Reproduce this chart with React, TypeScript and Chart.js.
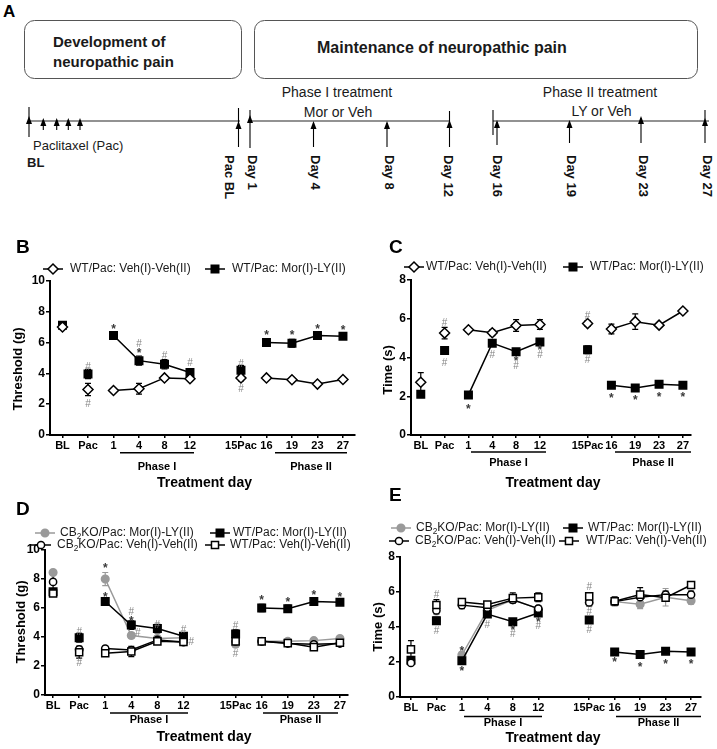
import React, { useEffect, useRef } from "react";
import { Chart, registerables } from "chart.js";

Chart.register(...registerables);

const FONT = "'Liberation Sans', Arial, Helvetica, sans-serif";

// ---------- categories ----------
const dayLabels = ["BL", "Pac", "1", "4", "8", "12", "15Pac", "16", "19", "23", "27"];
const daySlots = [0, 1, 2, 3, 4, 5, 7, 8, 9, 10, 11];
const phaseIDays = ["1", "4", "8", "12"];
const phaseIIDays = ["16", "19", "23", "27"];

// ---------- threshold (g) ----------
const wtVehThreshold = [7.0, 2.95, 2.88, 3.0, 3.7, 3.65, 3.7, 3.7, 3.58, 3.3, 3.6];
const wtVehThresholdSem = [0.15, 0.4, 0.1, 0.35, 0.15, 0.1, 0.2, 0.1, 0.1, 0.1, 0.1];
const wtMorThreshold = [7.12, 3.95, 6.45, 4.82, 4.58, 4.05, 4.2, 6.0, 5.95, 6.45, 6.4];
const wtMorThresholdSem = [0.15, 0.3, 0.15, 0.3, 0.3, 0.2, 0.3, 0.25, 0.25, 0.15, 0.15];
const koMorThreshold = [8.45, 3.1, 8.0, 4.1, 3.9, 3.95, 3.5, 3.7, 3.7, 3.75, 3.9];
const koMorThresholdSem = [0.15, 0.2, 0.45, 0.2, 0.1, 0.1, 0.2, 0.1, 0.1, 0.1, 0.15];
const koVehThreshold = [7.8, 3.15, 3.2, 3.1, 3.8, 3.65, 3.7, 3.7, 3.55, 3.5, 3.55];
const koVehThresholdSem = [0.5, 0.2, 0.15, 0.1, 0.15, 0.1, 0.2, 0.1, 0.1, 0.15, 0.1];

// ---------- time (s) ----------
const wtVehTime = [2.72, 5.26, 5.43, 5.28, 5.65, 5.7, 5.75, 5.47, 5.85, 5.67, 6.4];
const wtVehTimeSem = [0.5, 0.3, 0.1, 0.15, 0.3, 0.25, 0.15, 0.25, 0.4, 0.1, 0.1];
const wtMorTime = [2.1, 4.36, 2.07, 4.74, 4.3, 4.8, 4.4, 2.57, 2.43, 2.62, 2.57];
const wtMorTimeSem = [0.1, 0.2, 0.1, 0.15, 0.1, 0.1, 0.2, 0.1, 0.15, 0.1, 0.1];
const koMorTime = [2.1, 4.4, 2.4, 4.95, 5.55, 5.05, 5.4, 5.45, 5.3, 5.7, 5.5];
const koMorTimeSem = [0.2, 0.2, 0.2, 0.2, 0.15, 0.15, 0.2, 0.15, 0.25, 0.5, 0.2];
const koVehTime = [1.95, 4.95, 5.25, 5.1, 5.55, 5.05, 5.4, 5.45, 5.7, 5.85, 5.85];
const koVehTimeSem = [0.15, 0.2, 0.2, 0.15, 0.15, 0.15, 0.2, 0.2, 0.25, 0.2, 0.2];

// ---------- significance marks: [day, y value, symbol, slot shift] ----------
type Sig = [string, number, string, number?];
const sigB: Sig[] = [
  ["Pac", 4.5, "#"], ["Pac", 2.05, "#"], ["1", 7.0, "*"], ["4", 5.95, "#"], ["4", 5.45, "*"],
  ["8", 5.2, "#"], ["12", 4.7, "#"], ["15Pac", 4.65, "#"], ["15Pac", 3.07, "#"],
  ["16", 6.65, "*"], ["19", 6.65, "*"], ["23", 7.0, "*"], ["27", 6.97, "*"],
];
const sigC: Sig[] = [
  ["Pac", 5.84, "#"], ["Pac", 3.76, "#"], ["1", 1.45, "*"], ["4", 4.16, "#"], ["8", 3.93, "*"],
  ["8", 3.62, "#"], ["12", 4.5, "*"], ["12", 4.19, "#"], ["15Pac", 6.18, "#"], ["15Pac", 3.93, "#"],
  ["16", 2.03, "*"], ["19", 1.94, "*"], ["23", 2.11, "*"], ["27", 2.08, "*"],
];
const sigD: Sig[] = [
  ["Pac", 4.44, "#"], ["Pac", 2.25, "#"], ["1", 8.9, "*"], ["1", 6.94, "*"], ["4", 5.76, "#"],
  ["4", 5.25, "*"], ["4", 4.35, "#", 0.25], ["8", 4.9, "#"], ["12", 4.56, "#"], ["12", 3.75, "#", 0.3],
  ["15Pac", 4.8, "#"], ["15Pac", 2.87, "#"], ["16", 6.7, "*"], ["19", 6.57, "*"], ["23", 7.04, "*"], ["27", 6.94, "*"],
];
const sigE: Sig[] = [
  ["Pac", 5.88, "#"], ["Pac", 3.85, "#"], ["1", 2.79, "*"], ["1", 1.64, "*"], ["4", 4.18, "#"],
  ["8", 3.95, "*"], ["8", 3.66, "#"], ["12", 4.43, "*"], ["12", 4.14, "#"], ["15Pac", 6.32, "#"],
  ["15Pac", 4.91, "#"], ["15Pac", 3.89, "#"], ["16", 2.16, "*"], ["19", 1.87, "*"], ["23", 2.02, "*"], ["27", 2.02, "*"],
];

// ---------- legend names ----------
const nameWtVeh = "WT/Pac: Veh(I)-Veh(II)";
const nameWtMor = "WT/Pac: Mor(I)-LY(II)";
const nameKoMor = "CB₂KO/Pac: Mor(I)-LY(II)";
const nameKoVeh = "CB₂KO/Pac: Veh(I)-Veh(II)";

type Marker = "diamond" | "square" | "circle";
type Series = {
  name: string; values: number[]; sem: number[]; marker: Marker;
  fill: string; stroke: string; r: number; leg: [number, number, number];
};
type Phase = { text: string; x1: number; x2: number; lineY: number; textY: number };
type Panel = {
  letter: string; letterAt: [number, number];
  box: [number, number, number, number]; area: [number, number, number, number];
  xRange: [number, number]; yMax: number; yTitle: string; yTitleAt: [number, number];
  xTitleAt: [number, number]; phases: Phase[]; series: Series[]; sig: Sig[];
};

const BLACK = "#000000";
const GRAY = "#9a9a9a";
const WHITE = "#ffffff";

const panels: Panel[] = [
  {
    letter: "B", letterAt: [16, 253], box: [0, 230, 362, 265], area: [50, 280.7, 359, 435],
    xRange: [-0.49, 11.48], yMax: 10, yTitle: "Threshold (g)", yTitleAt: [18, 369], xTitleAt: [204.5, 483],
    phases: [
      { text: "Phase I", x1: 120, x2: 194, lineY: 452.7, textY: 467 },
      { text: "Phase II", x1: 275, x2: 347, lineY: 452.7, textY: 467 },
    ],
    series: [
      { name: nameWtVeh, values: wtVehThreshold, sem: wtVehThresholdSem, marker: "diamond", fill: WHITE, stroke: BLACK, r: 5, leg: [53, 269, 70] },
      { name: nameWtMor, values: wtMorThreshold, sem: wtMorThresholdSem, marker: "square", fill: BLACK, stroke: BLACK, r: 5.3, leg: [215, 269, 232] },
    ],
    sig: sigB,
  },
  {
    letter: "C", letterAt: [389, 253], box: [362, 230, 355, 265], area: [411, 280, 691, 435],
    xRange: [-0.41, 11.34], yMax: 8, yTitle: "Time (s)", yTitleAt: [388, 370], xTitleAt: [553, 483],
    phases: [
      { text: "Phase I", x1: 471, x2: 546, lineY: 452, textY: 463 },
      { text: "Phase II", x1: 615, x2: 691, lineY: 452, textY: 463 },
    ],
    series: [
      { name: nameWtVeh, values: wtVehTime, sem: wtVehTimeSem, marker: "diamond", fill: WHITE, stroke: BLACK, r: 5, leg: [414, 267, 426] },
      { name: nameWtMor, values: wtMorTime, sem: wtMorTimeSem, marker: "square", fill: BLACK, stroke: BLACK, r: 5.3, leg: [573, 267, 590] },
    ],
    sig: sigC,
  },
  {
    letter: "D", letterAt: [16, 515], box: [0, 495, 362, 254], area: [45, 550, 348, 695],
    xRange: [-0.31, 11.31], yMax: 10, yTitle: "Threshold (g)", yTitleAt: [21, 622], xTitleAt: [204, 737],
    phases: [
      { text: "Phase I", x1: 110, x2: 188, lineY: 713, textY: 720 },
      { text: "Phase II", x1: 263, x2: 338, lineY: 713, textY: 720 },
    ],
    series: [
      { name: nameWtVeh, values: wtVehThreshold, sem: wtVehThresholdSem, marker: "square", fill: WHITE, stroke: BLACK, r: 5, leg: [215, 545, 230] },
      { name: nameKoVeh, values: koVehThreshold, sem: koVehThresholdSem, marker: "circle", fill: WHITE, stroke: BLACK, r: 3.6, leg: [41, 545, 57] },
      { name: nameWtMor, values: wtMorThreshold, sem: wtMorThresholdSem, marker: "square", fill: BLACK, stroke: BLACK, r: 5.3, leg: [220, 533, 233] },
      { name: nameKoMor, values: koMorThreshold, sem: koMorThresholdSem, marker: "circle", fill: GRAY, stroke: GRAY, r: 3.8, leg: [45, 533, 60] },
    ],
    sig: sigD,
  },
  {
    letter: "E", letterAt: [389, 501], box: [362, 480, 355, 269], area: [400, 557, 701, 697],
    xRange: [-0.43, 11.39], yMax: 8, yTitle: "Time (s)", yTitleAt: [378, 627], xTitleAt: [553, 738],
    phases: [
      { text: "Phase I", x1: 464, x2: 542, lineY: 716.5, textY: 723 },
      { text: "Phase II", x1: 616, x2: 701, lineY: 716.5, textY: 723 },
    ],
    series: [
      { name: nameWtVeh, values: wtVehTime, sem: wtVehTimeSem, marker: "square", fill: WHITE, stroke: BLACK, r: 5, leg: [569, 541, 586] },
      { name: nameKoVeh, values: koVehTime, sem: koVehTimeSem, marker: "circle", fill: WHITE, stroke: BLACK, r: 3.6, leg: [399, 541, 415] },
      { name: nameWtMor, values: wtMorTime, sem: wtMorTimeSem, marker: "square", fill: BLACK, stroke: BLACK, r: 5.3, leg: [573, 528, 588] },
      { name: nameKoMor, values: koMorTime, sem: koMorTimeSem, marker: "circle", fill: GRAY, stroke: GRAY, r: 3.8, leg: [401, 528, 416] },
    ],
    sig: sigE,
  },
];

function groupOf(i: number): number {
  const d = dayLabels[i];
  if (phaseIDays.includes(d)) return 1;
  if (phaseIIDays.includes(d)) return 2;
  return 0;
}
function linked(i: number, j: number): boolean {
  const g = groupOf(i);
  return g !== 0 && g === groupOf(j);
}

function drawMarker(ctx: CanvasRenderingContext2D, kind: Marker, x: number, y: number, r: number, fill: string, stroke: string) {
  ctx.save();
  ctx.beginPath();
  if (kind === "square") {
    const s = r * Math.SQRT1_2;
    ctx.rect(x - s, y - s, 2 * s, 2 * s);
  } else if (kind === "diamond") {
    ctx.moveTo(x, y - r); ctx.lineTo(x + r, y); ctx.lineTo(x, y + r); ctx.lineTo(x - r, y); ctx.closePath();
  } else {
    ctx.arc(x, y, r, 0, Math.PI * 2);
  }
  ctx.fillStyle = fill; ctx.fill();
  ctx.lineWidth = 1.5; ctx.strokeStyle = stroke; ctx.stroke();
  ctx.restore();
}

function drawRich(ctx: CanvasRenderingContext2D, text: string, x: number, y: number, size: number) {
  const parts = text.split("₂");
  let cx = x;
  parts.forEach((part, k) => {
    ctx.font = `${size}px ${FONT}`;
    ctx.fillText(part, cx, y);
    cx += ctx.measureText(part).width;
    if (k < parts.length - 1) {
      ctx.font = `${size * 0.7}px ${FONT}`;
      ctx.fillText("2", cx, y + 3.5);
      cx += ctx.measureText("2").width;
    }
  });
}

function decorPlugin(p: Panel) {
  const ox = p.box[0], oy = p.box[1];
  return {
    id: "decor" + p.letter,
    beforeDatasetsDraw(chart: any) {
      const ctx: CanvasRenderingContext2D = chart.ctx;
      const xs = chart.scales.x, ys = chart.scales.y;
      ctx.save();
      ctx.lineWidth = 1.2;
      [...p.series].reverse().forEach((s) => {
        ctx.strokeStyle = s.stroke;
        s.values.forEach((v, i) => {
          const e = s.sem[i];
          if (!e) return;
          const x = xs.getPixelForValue(daySlots[i]);
          const y1 = ys.getPixelForValue(v + e), y2 = ys.getPixelForValue(v - e);
          ctx.beginPath();
          ctx.moveTo(x, y1); ctx.lineTo(x, y2);
          ctx.moveTo(x - 3, y1); ctx.lineTo(x + 3, y1);
          ctx.moveTo(x - 3, y2); ctx.lineTo(x + 3, y2);
          ctx.stroke();
        });
      });
      ctx.restore();
    },
    afterDatasetsDraw(chart: any) {
      const ctx: CanvasRenderingContext2D = chart.ctx;
      const xs = chart.scales.x, ys = chart.scales.y;
      ctx.save();
      ctx.textAlign = "center";
      ctx.textBaseline = "alphabetic";
      p.sig.forEach(([day, v, sym, shift]) => {
        const slot = daySlots[dayLabels.indexOf(day)] + (shift || 0);
        const x = xs.getPixelForValue(slot);
        const y = ys.getPixelForValue(v);
        if (sym === "*") { ctx.font = `bold 12px ${FONT}`; ctx.fillStyle = "#3a3a3a"; }
        else { ctx.font = `10px ${FONT}`; ctx.fillStyle = "#858585"; }
        const m = ctx.measureText(sym);
        const dy = (m.actualBoundingBoxAscent - m.actualBoundingBoxDescent) / 2;
        ctx.fillText(sym, x, y + dy);
      });
      ctx.restore();
    },
    afterDraw(chart: any) {
      const ctx: CanvasRenderingContext2D = chart.ctx;
      ctx.save();
      ctx.fillStyle = "#000";
      // panel letter
      ctx.font = `bold 19px ${FONT}`;
      ctx.textAlign = "left"; ctx.textBaseline = "alphabetic";
      ctx.fillText(p.letter, p.letterAt[0] - ox, p.letterAt[1] - oy);
      // legend
      p.series.forEach((s) => {
        const [lx, ly, tx] = s.leg;
        ctx.strokeStyle = s.stroke; ctx.lineWidth = 1.5;
        ctx.beginPath(); ctx.moveTo(lx - 10 - ox, ly - oy); ctx.lineTo(lx + 10 - ox, ly - oy); ctx.stroke();
        drawMarker(ctx, s.marker, lx - ox, ly - oy, s.r, s.fill, s.stroke);
        ctx.fillStyle = "#1a1a1a"; ctx.textAlign = "left"; ctx.textBaseline = "middle";
        drawRich(ctx, s.name, tx - ox, ly - oy, 12);
      });
      // y title
      ctx.fillStyle = "#000";
      ctx.font = `bold 13px ${FONT}`;
      ctx.textAlign = "center"; ctx.textBaseline = "middle";
      ctx.save();
      ctx.translate(p.yTitleAt[0] - ox, p.yTitleAt[1] - oy);
      ctx.rotate(-Math.PI / 2);
      ctx.fillText(p.yTitle, 0, 0);
      ctx.restore();
      // phases
      p.phases.forEach((ph) => {
        ctx.strokeStyle = "#000"; ctx.lineWidth = 1.5;
        ctx.beginPath(); ctx.moveTo(ph.x1 - ox, ph.lineY - oy); ctx.lineTo(ph.x2 - ox, ph.lineY - oy); ctx.stroke();
        ctx.font = `bold 11px ${FONT}`;
        ctx.fillText(ph.text, (ph.x1 + ph.x2) / 2 - ox, ph.textY - oy);
      });
      // x title
      ctx.font = `bold 14px ${FONT}`;
      ctx.fillText("Treatment day", p.xTitleAt[0] - ox, p.xTitleAt[1] - oy);
      ctx.restore();
    },
  };
}

function PanelChart({ p }: { p: Panel }) {
  const ref = useRef<HTMLCanvasElement>(null);
  useEffect(() => {
    const [bx, by, bw, bh] = p.box;
    const [al, at, ar, ab] = p.area;
    const xTickFont = { family: FONT, size: 11, weight: "bold" as const };
    const yTickFont = { family: FONT, size: 12, weight: "bold" as const };
    const chart = new Chart(ref.current!, {
      type: "line",
      data: {
        datasets: p.series.map((s, k) => ({
          label: s.name,
          data: s.values.map((v, i) => ({ x: daySlots[i], y: v })),
          order: k,
          borderColor: s.stroke,
          borderWidth: 1.5,
          pointStyle: s.marker === "diamond" ? "rectRot" : s.marker === "square" ? "rect" : "circle",
          pointRadius: s.r,
          pointHoverRadius: s.r,
          pointBackgroundColor: s.fill,
          pointBorderColor: s.stroke,
          pointBorderWidth: 1.5,
          fill: false,
          tension: 0,
          segment: {
            borderColor: (c: any) => (linked(c.p0DataIndex, c.p1DataIndex) ? s.stroke : "rgba(0,0,0,0)"),
          },
        })),
      },
      options: {
        responsive: false,
        animation: false,
        devicePixelRatio: 1,
        events: [],
        layout: { padding: { left: 0, top: at - by, right: bx + bw - ar, bottom: 0 } },
        plugins: { legend: { display: false }, tooltip: { enabled: false } },
        scales: {
          x: {
            type: "linear",
            min: p.xRange[0],
            max: p.xRange[1],
            afterBuildTicks: (s: any) => { s.ticks = daySlots.map((v) => ({ value: v })); },
            afterFit: (s: any) => { s.height = by + bh - ab; },
            ticks: {
              autoSkip: false, maxRotation: 0, minRotation: 0, padding: 1, color: "#000", font: xTickFont,
              callback: (v: any) => { const i = daySlots.indexOf(Number(v)); return i >= 0 ? dayLabels[i] : ""; },
            },
            grid: { drawOnChartArea: false, drawTicks: true, tickLength: 3, color: "#000", lineWidth: 1.5 },
            border: { display: true, color: "#000", width: 2 },
          },
          y: {
            min: 0,
            max: p.yMax,
            afterFit: (s: any) => { s.width = al - bx; },
            ticks: { stepSize: 2, padding: 1, color: "#000", font: yTickFont },
            grid: { drawOnChartArea: false, drawTicks: true, tickLength: 4, color: "#000", lineWidth: 1.5 },
            border: { display: true, color: "#000", width: 2 },
          },
        },
      },
      plugins: [decorPlugin(p)],
    } as any);
    return () => chart.destroy();
  }, [p]);
  const [bx, by, bw, bh] = p.box;
  return (
    <canvas ref={ref} width={bw} height={bh}
      style={{ position: "absolute", left: bx, top: by, width: bw, height: bh }} />
  );
}

// ---------- panel A (schematic timeline) ----------
const timelineSegments: [number, number][] = [[28.5, 240], [250, 450], [493, 709]];
const timelineArrows = [
  { x: 29, top: 107, tip: 118, bottom: 137 },
  { x: 43.3, top: 120, tip: 120, bottom: 130 },
  { x: 56.7, top: 120, tip: 120, bottom: 130 },
  { x: 68.3, top: 120, tip: 120, bottom: 130 },
  { x: 80, top: 120, tip: 120, bottom: 130 },
  { x: 238.5, top: 108, tip: 123, bottom: 147 },
  { x: 250, top: 110, tip: 117, bottom: 148 },
  { x: 313.5, top: 123, tip: 123, bottom: 147 },
  { x: 387, top: 123, tip: 123, bottom: 147 },
  { x: 449.5, top: 111, tip: 122, bottom: 147 },
  { x: 493, top: 110, tip: 200, bottom: 135 },
  { x: 497, top: 122, tip: 122, bottom: 145 },
  { x: 569.5, top: 122, tip: 122, bottom: 143 },
  { x: 641, top: 118, tip: 118, bottom: 143 },
  { x: 705, top: 110, tip: 120, bottom: 143 },
];
const timelineLabels: [string, number][] = [
  ["Pac BL", 229], ["Day 1", 252], ["Day 4", 315], ["Day 8", 389], ["Day 12", 448],
  ["Day 16", 497], ["Day 19", 571], ["Day 23", 643], ["Day 27", 707],
];

function PanelA() {
  return (
    <svg width={717} height={205} style={{ position: "absolute", left: 0, top: 0 }} fontFamily={FONT}>
      <text x={3} y={17} fontSize={17} fontWeight="bold">A</text>
      <rect x={24.5} y={20.5} width={217} height={58} rx={10} fill="none" stroke="#555" strokeWidth={1} />
      <rect x={254.5} y={20.5} width={443} height={58} rx={10} fill="none" stroke="#555" strokeWidth={1} />
      <text x={53} y={47} fontSize={15} fontWeight="bold" fill="#1a1a1a">Development of</text>
      <text x={53} y={67} fontSize={15} fontWeight="bold" fill="#1a1a1a">neuropathic pain</text>
      <text x={317} y={53} fontSize={16} fontWeight="bold" fill="#1a1a1a">Maintenance of neuropathic pain</text>
      <text x={337} y={97} fontSize={14} textAnchor="middle" fill="#1a1a1a">Phase I treatment</text>
      <text x={338} y={116.5} fontSize={14} textAnchor="middle" fill="#1a1a1a">Mor or Veh</text>
      <text x={600} y={97} fontSize={14} textAnchor="middle" fill="#1a1a1a">Phase II treatment</text>
      <text x={601.5} y={116} fontSize={14} textAnchor="middle" fill="#1a1a1a">LY or Veh</text>
      {timelineSegments.map(([a, b], i) => (
        <line key={"s" + i} x1={a} x2={b} y1={121} y2={121} stroke="#6e6e6e" strokeWidth={1.6} />
      ))}
      {timelineArrows.map((a, i) => (
        <g key={"a" + i}>
          <line x1={a.x} x2={a.x} y1={a.top} y2={a.bottom} stroke="#000" strokeWidth={1.1} />
          {a.tip < 160 && (
            <polygon points={`${a.x},${a.tip - 2} ${a.x - 3},${a.tip + 6} ${a.x + 3},${a.tip + 6}`} fill="#000" />
          )}
        </g>
      ))}
      <text x={33} y={150} fontSize={13} fill="#1a1a1a">Paclitaxel (Pac)</text>
      <text x={27} y={166.5} fontSize={13} fontWeight="bold" fill="#1a1a1a">BL</text>
      {timelineLabels.map(([t, x]) => (
        <text key={t} transform={`translate(${x} 155) rotate(90)`} fontSize={13} fontWeight="bold"
          dominantBaseline="central" fill="#111">{t}</text>
      ))}
    </svg>
  );
}

export default function App() {
  return (
    <div style={{ position: "absolute", left: 0, top: 0, width: 717, height: 749, background: "#fff", overflow: "hidden" }}>
      <PanelA />
      {panels.map((p) => <PanelChart key={p.letter} p={p} />)}
    </div>
  );
}
